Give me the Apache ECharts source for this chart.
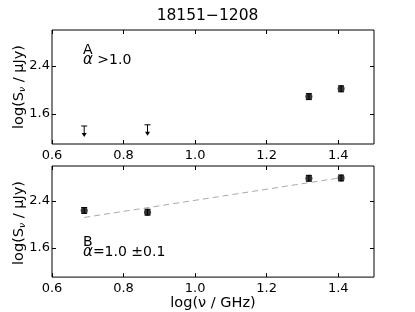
<!DOCTYPE html>
<html><head><meta charset="utf-8">
<script src="https://cdn.jsdelivr.net/npm/echarts@6/dist/echarts.min.js"></script>
<style>html,body{margin:0;padding:0;background:#fff}#c{width:415px;height:312px}</style>
</head><body><div id="c"></div>
<script>
// Data
const titleText = '18151\u22121208';
const xTicks = [0.6, 0.8, 1.0, 1.2, 1.4];
const yTicks = [1.6, 2.4];
// Panel A: upper limits
const limX = [0.69, 0.867];
const limY = [1.40, 1.42];
// Panel A: detections
const detAX = [1.318, 1.408];
const detAY = [1.89, 2.02];
const detAErr = [0.05, 0.05];
// Panel B: detections
const detBX = [0.69, 0.867, 1.318, 1.408];
const detBY = [2.24, 2.21, 2.79, 2.795];
const detBErr = [0.05, 0.05, 0.05, 0.05];
// Panel B: power-law fit
const fitX = [0.69, 1.408];
const fitY = [2.12, 2.80];

const FONT = 'DejaVu Sans';
const chart = echarts.init(document.getElementById('c'));

const grids = [
  {left: 52, top: 30, width: 322, height: 114, show: true, borderColor: '#000', borderWidth: 1, backgroundColor: 'transparent'},
  {left: 52, top: 166, width: 322, height: 114, show: true, borderColor: '#000', borderWidth: 1, backgroundColor: 'transparent'}
];

function xAx(gi, pos, labels, name) {
  return {
    type: 'value', gridIndex: gi, position: pos, min: 0.6, max: 1.5,
    axisLine: {show: false},
    axisTick: {show: true, inside: true, length: 4, customValues: xTicks, lineStyle: {color: '#000'}},
    axisLabel: {show: labels, customValues: xTicks, formatter: v => v.toFixed(1), color: '#000', fontFamily: FONT, fontSize: 13, margin: 5},
    splitLine: {show: false},
    name: name || '', nameLocation: 'middle', nameGap: 17,
    nameTextStyle: {color: '#000', fontFamily: FONT, fontSize: 14.5}
  };
}
function yAx(gi, pos, labels) {
  return {
    type: 'value', gridIndex: gi, position: pos, min: 1.1, max: 3.0,
    axisLine: {show: false},
    axisTick: {show: true, inside: true, length: 4, customValues: yTicks, lineStyle: {color: '#000'}},
    axisLabel: {show: labels, customValues: yTicks, formatter: v => v.toFixed(1), color: '#000', fontFamily: FONT, fontSize: 13, margin: 2},
    splitLine: {show: false}
  };
}

function errRender(params, api) {
  const x = api.value(0), y = api.value(1), e = api.value(2);
  const p1 = api.coord([x, y + e]), p2 = api.coord([x, y - e]);
  const w = 3;
  const st = {stroke: '#000', lineWidth: 1};
  return {type: 'group', children: [
    {type: 'line', shape: {x1: p1[0], y1: p1[1], x2: p2[0], y2: p2[1]}, style: st},
    {type: 'line', shape: {x1: p1[0] - w, y1: p1[1], x2: p1[0] + w, y2: p1[1]}, style: st},
    {type: 'line', shape: {x1: p2[0] - w, y1: p2[1], x2: p2[0] + w, y2: p2[1]}, style: st}
  ]};
}
function limRender(params, api) {
  const p = api.coord([api.value(0), api.value(1)]);
  const L = 11, w = 3;
  const st = {stroke: '#000', lineWidth: 1};
  return {type: 'group', children: [
    {type: 'line', shape: {x1: p[0] - w, y1: p[1], x2: p[0] + w, y2: p[1]}, style: st},
    {type: 'line', shape: {x1: p[0], y1: p[1], x2: p[0], y2: p[1] + L - 3}, style: st},
    {type: 'polygon', shape: {points: [[p[0] - 2.5, p[1] + L - 4], [p[0] + 2.5, p[1] + L - 4], [p[0], p[1] + L]]}, style: {fill: '#000'}}
  ]};
}

const zip = (a, b, c) => a.map((v, i) => c ? [v, b[i], c[i]] : [v, b[i]]);
const yName = {text: 'log(S{s|\u03bd} / \u03bcJy)', rich: {s: {fontSize: 9, fontStyle: 'italic', fontFamily: FONT, verticalAlign: 'bottom', padding: [7, 0, 0, 0]}}, fontFamily: FONT, fontSize: 14.5, fill: '#000', align: 'center', verticalAlign: 'middle'};

const option = {
  animation: false,
  backgroundColor: '#fff',
  title: {text: titleText, left: 'center', top: 3, textStyle: {fontFamily: FONT, fontSize: 15.5, fontWeight: 'normal', color: '#000'}},
  grid: grids,
  xAxis: [xAx(0, 'bottom', true), xAx(0, 'top', false), xAx(1, 'bottom', true, 'log(\u03bd / GHz)'), xAx(1, 'top', false)],
  yAxis: [yAx(0, 'left', true), yAx(0, 'right', false), yAx(1, 'left', true), yAx(1, 'right', false)],
  series: [
    {type: 'custom', xAxisIndex: 0, yAxisIndex: 0, renderItem: limRender, data: zip(limX, limY), z: 3},
    {type: 'custom', xAxisIndex: 0, yAxisIndex: 0, renderItem: errRender, data: zip(detAX, detAY, detAErr), z: 3},
    {type: 'scatter', xAxisIndex: 0, yAxisIndex: 0, symbol: 'circle', symbolSize: 7, itemStyle: {color: '#000'}, data: zip(detAX, detAY), z: 4},
    {type: 'line', xAxisIndex: 2, yAxisIndex: 2, data: zip(fitX, fitY), showSymbol: false, lineStyle: {color: '#aaaaaa', width: 1, type: [6, 4]}, z: 2},
    {type: 'custom', xAxisIndex: 2, yAxisIndex: 2, renderItem: errRender, data: zip(detBX, detBY, detBErr), z: 3},
    {type: 'scatter', xAxisIndex: 2, yAxisIndex: 2, symbol: 'circle', symbolSize: 7, itemStyle: {color: '#000'}, data: zip(detBX, detBY), z: 4}
  ],
  graphic: [
    {type: 'text', x: 19, y: 87, rotation: Math.PI / 2, style: yName},
    {type: 'text', x: 19, y: 223, rotation: Math.PI / 2, style: yName},
    {type: 'text', x: 83, y: 43, style: {text: 'A', fontFamily: FONT, fontSize: 14, fill: '#000'}},
    {type: 'text', x: 83, y: 53, style: {text: '{i|\u03b1} >1.0', rich: {i: {fontStyle: 'italic', fontFamily: FONT, fontSize: 15}}, fontFamily: FONT, fontSize: 14, fill: '#000'}},
    {type: 'text', x: 83, y: 235, style: {text: 'B', fontFamily: FONT, fontSize: 14, fill: '#000'}},
    {type: 'text', x: 83, y: 245, style: {text: '{i|\u03b1}=1.0 \u00b10.1', rich: {i: {fontStyle: 'italic', fontFamily: FONT, fontSize: 15}}, fontFamily: FONT, fontSize: 14, fill: '#000'}}
  ]
};
chart.setOption(option);
</script></body></html>
